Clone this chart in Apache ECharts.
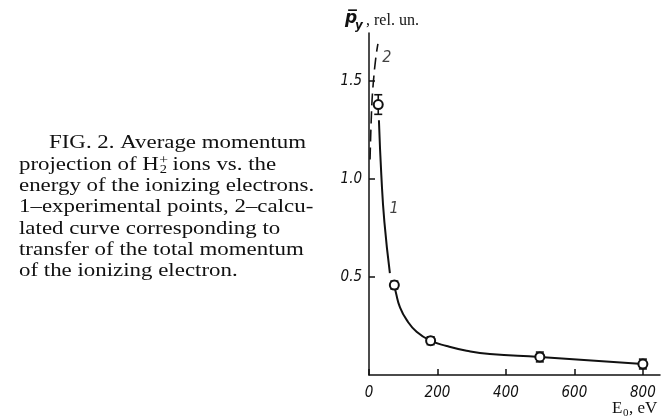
<!DOCTYPE html>
<html><head><meta charset="utf-8">
<script src="https://cdn.jsdelivr.net/npm/echarts@6/dist/echarts.min.js"></script>
<style>html,body{margin:0;padding:0;background:#fff}#c{width:667px;height:419px}</style>
</head><body><div id="c"></div>
<script>
// ---- data ----
const xTicks = [0, 200, 400, 600, 800];
const yTicks = [0.5, 1.0, 1.5];
const expE = [27, 74, 180, 499, 800];
const expP = [1.38, 0.459, 0.175, 0.092, 0.056];
const expErr = [0.05, 0.02, 0.02, 0.025, 0.025];
const fitE1 = [29, 36, 45, 61];
const fitP1 = [1.30, 1.02, 0.78, 0.52];
const fitE2 = [74, 79, 90, 110, 139, 180, 227, 285, 353, 499, 800];
const fitP2 = [0.459, 0.417, 0.348, 0.281, 0.221, 0.175, 0.148, 0.124, 0.107, 0.092, 0.056];
const calcE = [3, 8, 13, 20, 26];
const calcP = [1.10, 1.37, 1.50, 1.62, 1.69];
const curveNames = ['1', '2'];
const curveLabelE = [73, 52];
const curveLabelP = [0.85, 1.62];
const captionLines = [
  'FIG. 2. Average momentum',
  'projection of H',
  'energy of the ionizing electrons.',
  '1\u2013experimental points, 2\u2013calcu-',
  'lated curve corresponding to',
  'transfer of the total momentum',
  'of the ionizing electron.'
];
const line2Tail = ' ions vs. the';

// ---- layout ----
const serif = '"Liberation Serif", "Times New Roman", serif';
const tickFont = '"Liberation Sans Narrow", "DejaVu Sans Condensed", sans-serif';
const capSize = 19;
const ctx = document.createElement('canvas').getContext('2d');
function tw(t, size) { ctx.font = size + 'px ' + serif; return ctx.measureText(t).width; }
const sx = 257 / tw(captionLines[0], capSize);

const pair = (a, b) => a.map((v, i) => [v, b[i]]);
const graphics = [];
function capText(t, x, y, size) {
  graphics.push({type: 'text', x: x, y: y, scaleX: sx,
    style: {text: t, font: size + 'px ' + serif, fill: '#111', textVerticalAlign: 'top'}});
}
captionLines.forEach((t, i) => {
  const top = 134 + i * 21.3;
  const left = i === 0 ? 49 : 19;
  capText(t, left, top, capSize);
  if (i === 1) {
    const w = tw(t, capSize) * sx;
    capText('+', left + w + 0.5, top - 1, 13);
    capText('2', left + w + 1, top + 9, 12);
    capText(line2Tail, left + w + 8, top, capSize);
  }
});
// y axis name
graphics.push({type: 'text', left: 345, top: 10,
  style: {text: 'p\u0305', font: 'italic bold 17px "DejaVu Sans", sans-serif', fill: '#111'}});
graphics.push({type: 'text', left: 355, top: 20,
  style: {text: 'y', font: 'italic bold 12px "DejaVu Sans", sans-serif', fill: '#111'}});
graphics.push({type: 'text', left: 366, top: 13,
  style: {text: ', rel. un.', font: '16px ' + serif, fill: '#111'}});
// x axis name
graphics.push({type: 'text', left: 612, top: 400,
  style: {text: 'E', font: '17px ' + serif, fill: '#111'}});
graphics.push({type: 'text', left: 623, top: 408,
  style: {text: '0', font: '11px ' + serif, fill: '#111'}});
graphics.push({type: 'text', left: 629, top: 400,
  style: {text: ', eV', font: '17px ' + serif, fill: '#111'}});

const chart = echarts.init(document.getElementById('c'), null, {renderer: 'canvas'});
chart.setOption({
  backgroundColor: '#fff',
  animation: false,
  grid: {left: 369, top: 33, right: 7, bottom: 44, containLabel: false},
  xAxis: {
    type: 'value', min: 0, max: 850,
    axisLine: {lineStyle: {color: '#111', width: 1.5}},
    axisTick: {inside: true, length: 6, customValues: xTicks, lineStyle: {color: '#111', width: 1.5}},
    axisLabel: {customValues: xTicks, margin: 11, color: '#111', fontStyle: 'italic',
      fontFamily: tickFont, fontSize: 15, formatter: v => String(v)},
    splitLine: {show: false}
  },
  yAxis: {
    type: 'value', min: 0, max: 1.745,
    axisLine: {show: true, lineStyle: {color: '#111', width: 1.5}},
    axisTick: {show: true, inside: true, length: 6, customValues: yTicks, lineStyle: {color: '#111', width: 1.5}},
    axisLabel: {customValues: yTicks, margin: 7, color: '#111', fontStyle: 'italic',
      fontFamily: tickFont, fontSize: 15, formatter: v => v.toFixed(1)},
    splitLine: {show: false}
  },
  graphic: graphics,
  series: [
    {type: 'line', name: 'fit1', data: pair(fitE1, fitP1), smooth: 0.5, symbol: 'none',
      lineStyle: {color: '#111', width: 2}},
    {type: 'line', name: 'fit2', data: pair(fitE2, fitP2), smooth: 0.5, symbol: 'none',
      lineStyle: {color: '#111', width: 2}},
    {type: 'line', name: 'calc', data: pair(calcE, calcP), smooth: 0.4, symbol: 'none',
      lineStyle: {color: '#111', width: 1.6, type: [12, 6]}},
    {type: 'custom', name: 'err', data: expE.map((e, i) => [e, expP[i], expErr[i]]),
      renderItem: (params, api) => {
        const x = api.value(0), y = api.value(1), d = api.value(2);
        const a = api.coord([x, y + d]), b = api.coord([x, y - d]);
        const st = {stroke: '#111', lineWidth: 1.6};
        return {type: 'group', children: [
          {type: 'line', shape: {x1: a[0], y1: a[1], x2: b[0], y2: b[1]}, style: st},
          {type: 'line', shape: {x1: a[0] - 4, y1: a[1], x2: a[0] + 4, y2: a[1]}, style: st},
          {type: 'line', shape: {x1: b[0] - 4, y1: b[1], x2: b[0] + 4, y2: b[1]}, style: st}
        ]};
      }, z: 3},
    {type: 'scatter', name: 'exp', data: pair(expE, expP), symbol: 'circle', symbolSize: 9,
      itemStyle: {color: '#fff', borderColor: '#111', borderWidth: 2, opacity: 1}, z: 4},
    {type: 'scatter', name: 'labels', data: pair(curveLabelE, curveLabelP), symbolSize: 0,
      label: {show: true, position: 'inside', formatter: p => curveNames[p.dataIndex],
        fontStyle: 'italic', fontFamily: tickFont, fontSize: 16, color: '#111'}}
  ]
});
</script></body></html>
